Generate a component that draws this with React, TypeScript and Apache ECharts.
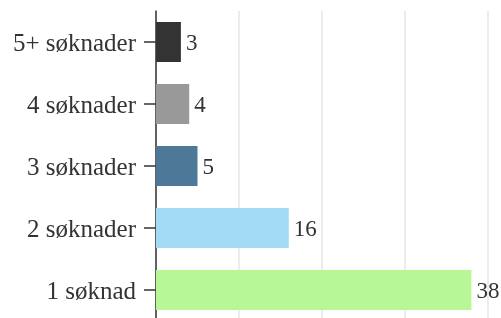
import React, { useEffect, useRef } from "react";
import * as echarts from "echarts";

const categories = ["1 søknad", "2 søknader", "3 søknader", "4 søknader", "5+ søknader"];
const values = [38, 16, 5, 4, 3];
const colors = ["#b8f796", "#a3dbf5", "#4e7897", "#999999", "#333333"];

export default function App() {
  const ref = useRef<HTMLDivElement>(null);
  useEffect(() => {
    if (!ref.current) return;
    const chart = echarts.init(ref.current, null, { renderer: "svg" });
    chart.setOption({
      animation: false,
      textStyle: { fontFamily: "Liberation Serif" },
      grid: { left: 156, right: 13, top: 11, height: 310 },
      xAxis: {
        type: "value",
        min: 0,
        max: 40,
        interval: 10,
        axisLine: { show: false },
        axisTick: { show: false },
        axisLabel: { show: false },
        splitLine: { show: true, lineStyle: { color: "#e6e6e6", width: 1.5 } },
      },
      yAxis: {
        type: "category",
        data: categories,
        axisLine: { show: true, lineStyle: { color: "#333333", width: 1.5 } },
        axisTick: { show: true, length: 12, alignWithLabel: true, lineStyle: { color: "#333333", width: 1.5 } },
        axisLabel: { margin: 20, fontSize: 25, color: "#333333", fontFamily: "Liberation Serif" },
      },
      series: [
        {
          type: "bar",
          barWidth: 40,
          data: values.map((v, i) => ({ value: v, itemStyle: { color: colors[i] } })),
          label: {
            show: true,
            position: "right",
            distance: 5,
            fontSize: 23,
            color: "#333333",
            fontFamily: "Liberation Serif",
          },
        },
      ],
    });
    return () => chart.dispose();
  }, []);
  return <div ref={ref} style={{ position: "fixed", left: 0, top: 0, width: 501, height: 340 }} />;
}
